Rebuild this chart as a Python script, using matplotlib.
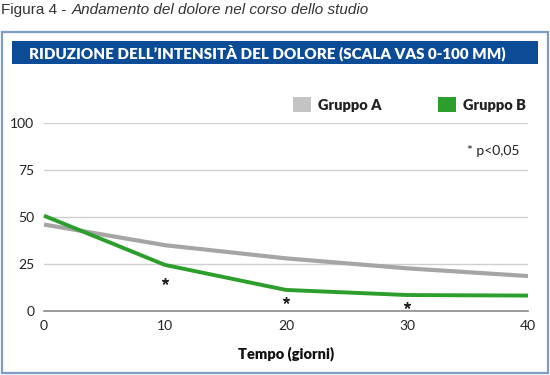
import matplotlib
matplotlib.use("Agg")
import matplotlib.pyplot as plt
from matplotlib.patches import Rectangle

days = [0, 10, 20, 30, 40]
gruppo_a = [46, 35, 28, 22.7, 18.6]
gruppo_b = [50.7, 24.5, 11.2, 8.5, 8.2]
sig_days = [10, 20, 30]
sig_y = [16, 5.9, 3.2]
y_ticks = [0, 25, 50, 75, 100]
x_ticks = [0, 10, 20, 30, 40]

W, H = 550, 375
fig = plt.figure(figsize=(5.5, 3.75), dpi=100)
fig.patch.set_facecolor("white")

def fx(px):
    return px / W

def fy(py):
    return 1 - py / H

# outer frame
fig.patches.append(Rectangle((fx(2), fy(373)), fx(546), (373 - 32) / H,
                             transform=fig.transFigure, facecolor="white",
                             edgecolor="#7d9dc9", linewidth=1.6, zorder=0))
# title bar
fig.patches.append(Rectangle((fx(12), fy(64)), fx(526), 23 / H,
                             transform=fig.transFigure, facecolor="#0c4b95",
                             edgecolor="none", zorder=1))
fig.text(fx(267), fy(52.5), "RIDUZIONE DELL\u2019INTENSIT\u00c0 DEL DOLORE (SCALA VAS 0-100 MM)",
         color="white", fontsize=10.9, fontweight="heavy", family="Lato",
         ha="center", va="center", zorder=2)

# caption
fig.text(fx(1), fy(10), "Figura 4 -", fontsize=11.0, color="#333333",
         family="Liberation Sans", ha="left", va="center")
fig.text(fx(72), fy(10), "Andamento del dolore nel corso dello studio", fontsize=11.0,
         color="#333333", family="Liberation Sans", style="italic", ha="left", va="center")

ax = fig.add_axes([fx(44), fy(311), fx(528) - fx(44), (311 - 123) / H])
ax.set_zorder(5)
ax.set_facecolor("none")
ax.set_xlim(0, 40)
ax.set_ylim(0, 100)
for s in ax.spines.values():
    s.set_visible(False)
for yv in y_ticks[1:]:
    ax.axhline(yv, color="#cfcfcf", linewidth=1.0, zorder=1)
ax.axhline(0, color="#8a8a8a", linewidth=1.2, zorder=1, clip_on=False)

ax.plot(days, gruppo_a, color="#a5a5a5", linewidth=3.0, zorder=3,
        solid_capstyle="butt", clip_on=False)
ax.plot(days, gruppo_b, color="#2c9e2c", linewidth=2.8, zorder=4,
        solid_capstyle="butt", clip_on=False)
ax.plot(sig_days, sig_y, linestyle="none", marker=(5, 2, 0), markersize=5,
        markeredgewidth=1.0, color="#222222", zorder=5, clip_on=False)

ax.set_xticks(x_ticks)
ax.set_yticks(y_ticks)
ax.tick_params(length=0, labelsize=10, colors="#222222")
ax.tick_params(axis="x", pad=6.5)
ax.tick_params(axis="y", pad=7)
for lab in ax.get_xticklabels() + ax.get_yticklabels():
    lab.set_family("Lato")
ax.set_xlabel("Tempo (giorni)", fontsize=10.5, fontweight="heavy", family="Lato",
              color="#111111", labelpad=10)

# legend
fig.patches.append(Rectangle((fx(293), fy(112)), fx(18), 15 / H,
                             transform=fig.transFigure, facecolor="#c4c4c4",
                             edgecolor="none", zorder=2))
fig.text(fx(318), fy(105), "Gruppo A", fontsize=10.5, fontweight="heavy",
         family="Lato", color="#222222", ha="left", va="center")
fig.patches.append(Rectangle((fx(438), fy(112)), fx(18), 15 / H,
                             transform=fig.transFigure, facecolor="#2c9e2c",
                             edgecolor="none", zorder=2))
fig.text(fx(463), fy(105), "Gruppo B", fontsize=10.5, fontweight="heavy",
         family="Lato", color="#222222", ha="left", va="center")

fig.text(fx(467), fy(151), "* p<0,05", fontsize=10, family="Lato",
         color="#222222", ha="left", va="center")

fig.savefig("out.png", dpi=100, facecolor="white")
